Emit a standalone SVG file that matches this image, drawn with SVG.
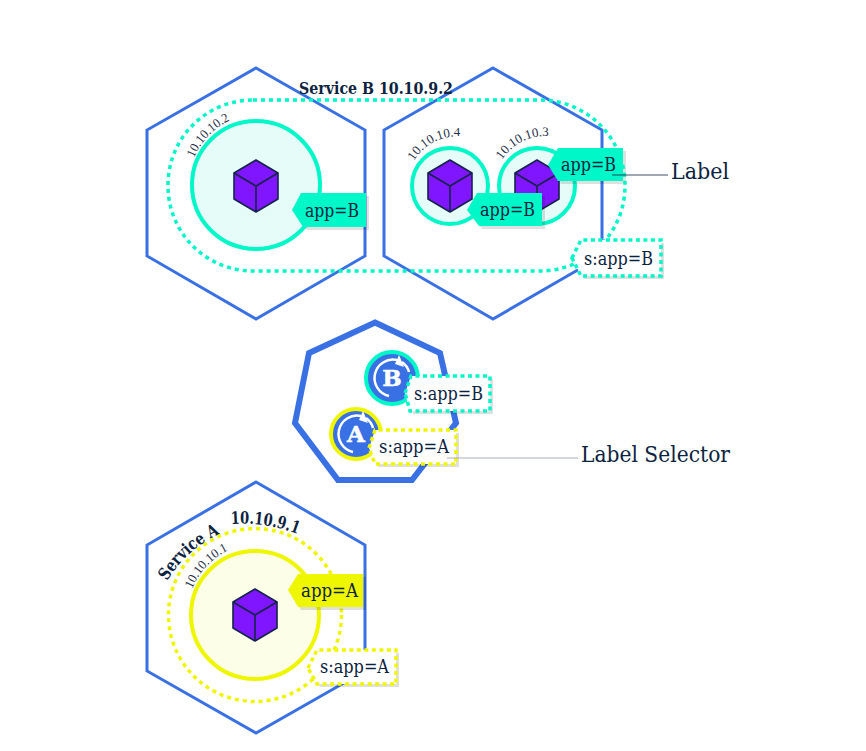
<svg xmlns="http://www.w3.org/2000/svg" width="866" height="751" viewBox="0 0 866 751">
<style>
.hex{fill:none;stroke:#3970e4;stroke-width:3;stroke-linejoin:miter}
.t{font-family:"DejaVu Serif","Liberation Serif",serif;fill:#0c2340}
.lb{font-size:18px}
.cap{font-size:22px}
.ip{font-size:13px;fill:#1f3048;font-family:"Liberation Serif","DejaVu Serif",serif}
.sv{font-size:17px;font-weight:700}
.cube{fill:#7f16ff;stroke:#14234a;stroke-width:1.6;stroke-linejoin:round}
.tl{fill:#00f7c8}.yl{fill:#eff700}
.sh{fill:#000;fill-opacity:.12}
.box{fill:#fff;stroke-width:3.500;stroke-dasharray:4 3.500}
.btl{stroke:#00f7c8}.byl{stroke:#eff700}
.dot{fill:none;stroke-width:3.500;stroke-dasharray:4 4}
.ico{fill:none;stroke:#fff;stroke-width:2.500}
.lt{font-size:23px;font-weight:700;fill:#fff}
</style>
<defs>
<g id="cube"><path class="cube" d="M0-26 22-13V13L0 26-22 13V-13Z"/><path class="cube" style="fill:none" d="M-22-13 0 0 22-13M0 0V26"/></g>
<path id="arcA" d="M167 581A120 120 0 0 1 247 525"/>
<path id="arcA2" d="M231 524A155 155 0 0 1 305 537"/>
<path id="ip2" d="M194 158A71 71 0 0 1 248 115"/>
<path id="ip4" d="M414 161A50 50 0 0 1 480 142"/>
<path id="ip3" d="M502 160A52 52 0 0 1 568 141"/>
<path id="ip1" d="M192 589A76 76 0 0 1 246 544"/>
</defs>
<g id="hex-b1"><path class="hex" d="M256 68 365 130V256L256 319 147 256V130Z"/></g>
<g id="hex-b2"><path class="hex" d="M493 68 602 130V256L493 319 384 256V130Z"/></g>
<g id="pod-b1">
<circle cx="256" cy="185" r="64" fill="#e6fcf9" stroke="#00f7c8" stroke-width="4"/>
<use href="#cube" x="256" y="186"/>
<text class="ip"><textPath href="#ip2" textLength="53" lengthAdjust="spacingAndGlyphs">10.10.10.2</textPath></text>
<path class="sh" d="M295 213 305 196H369V230H307Z"/>
<path class="tl" d="M292 210 301 193H366V227H303Z"/>
<text class="t lb" x="305" y="217" textLength="54" lengthAdjust="spacingAndGlyphs">app=B</text>
</g>
<g id="pod-b2">
<circle cx="450" cy="186" r="38" fill="#e6fcf9" stroke="#00f7c8" stroke-width="4"/>
<use href="#cube" x="450" y="186"/>
<text class="ip"><textPath href="#ip4" textLength="55" lengthAdjust="spacingAndGlyphs">10.10.10.4</textPath></text>
</g>
<g id="pod-b3">
<circle cx="537" cy="186" r="38" fill="#e6fcf9" stroke="#00f7c8" stroke-width="4"/>
<use href="#cube" x="537" y="186"/>
<text class="ip"><textPath href="#ip3" textLength="55" lengthAdjust="spacingAndGlyphs">10.10.10.3</textPath></text>
</g>
<g id="label-b2">
<path class="sh" d="M470 213 480 196H545V229H482Z"/>
<path class="tl" d="M467 210 477 193H542V226H479Z"/>
<text class="t lb" x="480" y="216" textLength="55" lengthAdjust="spacingAndGlyphs">app=B</text>
</g>
<g id="label-b3">
<path class="sh" d="M551 168 561 151H626V184H561Z"/>
<path class="tl" d="M548 165 558 148H623V181H558Z"/>
<text class="t lb" x="561" y="171" textLength="55" lengthAdjust="spacingAndGlyphs">app=B</text>
</g>
<g id="service-b">
<rect class="dot" x="168" y="100" width="457" height="171" rx="85" ry="85" stroke="#00f7c8"/>
<text class="t sv" x="299" y="94" textLength="154" lengthAdjust="spacingAndGlyphs">Service B 10.10.9.2</text>
</g>
<g id="selector-b">
<path class="sh" d="M575 261 584 243H664V279H584Z"/>
<path class="box btl" d="M572 258 581 240H661V276H581Z"/>
<text class="t lb" x="584" y="265" textLength="69" lengthAdjust="spacingAndGlyphs">s:app=B</text>
</g>
<g id="deployment">
<path fill="none" stroke="#3970e4" stroke-width="6" stroke-linejoin="miter" d="M375 322.500 440 353 456 423 412 480H338L295 423 309 353Z"/>
</g>
<g id="icon-b">
<circle cx="392" cy="378" r="26" fill="#3970e4" stroke="#00f7c8" stroke-width="4"/>
<path class="ico" d="M389 396A18 18 0 1 1 397 360M402 362A18 18 0 0 1 409 372"/>
<path fill="#fff" d="M399 355 404 367 395 364Z"/>
<text x="392" y="386" text-anchor="middle" class="t lt" stroke="#fff" stroke-width=".5">B</text>
</g>
<g id="icon-a">
<circle cx="356" cy="434" r="25" fill="#3970e4" stroke="#eff700" stroke-width="4"/>
<path class="ico" d="M353 452A18 18 0 1 1 361 416M366 418A18 18 0 0 1 373 428"/>
<path fill="#fff" d="M363 411 368 423 359 420Z"/>
<text x="356" y="442" text-anchor="middle" class="t lt" stroke="#fff" stroke-width=".5">A</text>
</g>
<g id="selector-icon-b">
<path class="sh" d="M408 396 414 379H493V414H413Z"/>
<path class="box btl" d="M405 393 411 376H490V411H410Z"/>
<text class="t lb" x="414" y="400" textLength="69" lengthAdjust="spacingAndGlyphs">s:app=B</text>
</g>
<g id="selector-icon-a">
<path class="sh" d="M372 451 378 433H459V467H378Z"/>
<path class="box byl" d="M369 448 375 430H456V464H375Z"/>
<text class="t lb" x="379" y="453" textLength="70" lengthAdjust="spacingAndGlyphs">s:app=A</text>
</g>
<g id="hex-a"><path class="hex" d="M256 482 365 545V671L256 733 147 671V545Z"/></g>
<g id="pod-a">
<circle class="dot" cx="255" cy="615" r="86.500" stroke="#eff700"/>
<circle cx="255" cy="615" r="64" fill="#fcfee8" stroke="#eff700" stroke-width="4"/>
<use href="#cube" x="255" y="615"/>
<text class="ip"><textPath href="#ip1" textLength="54" lengthAdjust="spacingAndGlyphs">10.10.10.1</textPath></text>
<path class="sh" d="M291 593 301 577H366V610H301Z"/>
<path class="yl" d="M288 590 298 574H363V607H298Z"/>
<text class="t lb" x="301" y="597" textLength="57" lengthAdjust="spacingAndGlyphs">app=A</text>
</g>
<g id="service-a">
<text class="t sv"><textPath href="#arcA" textLength="72" lengthAdjust="spacingAndGlyphs">Service A</textPath></text>
<text class="t sv"><textPath href="#arcA2" textLength="68" lengthAdjust="spacingAndGlyphs">10.10.9.1</textPath></text>
</g>
<g id="selector-a">
<path class="sh" d="M311 671 320 653H399V687H320Z"/>
<path class="box byl" d="M308 668 317 650H396V684H317Z"/>
<text class="t lb" x="320" y="673" textLength="69" lengthAdjust="spacingAndGlyphs">s:app=A</text>
</g>
<g id="connectors">
<path d="M612 175H668" stroke="#0c2340" stroke-width="1" stroke-opacity=".8" fill="none"/>
<path d="M447 458H578" stroke="#aab2bb" stroke-width="1.200" fill="none"/>
</g>
<g id="captions">
<text class="t cap" x="671" y="179" textLength="58" lengthAdjust="spacingAndGlyphs">Label</text>
<text class="t cap" x="581" y="462" textLength="149" lengthAdjust="spacingAndGlyphs">Label Selector</text>
</g>
</svg>
